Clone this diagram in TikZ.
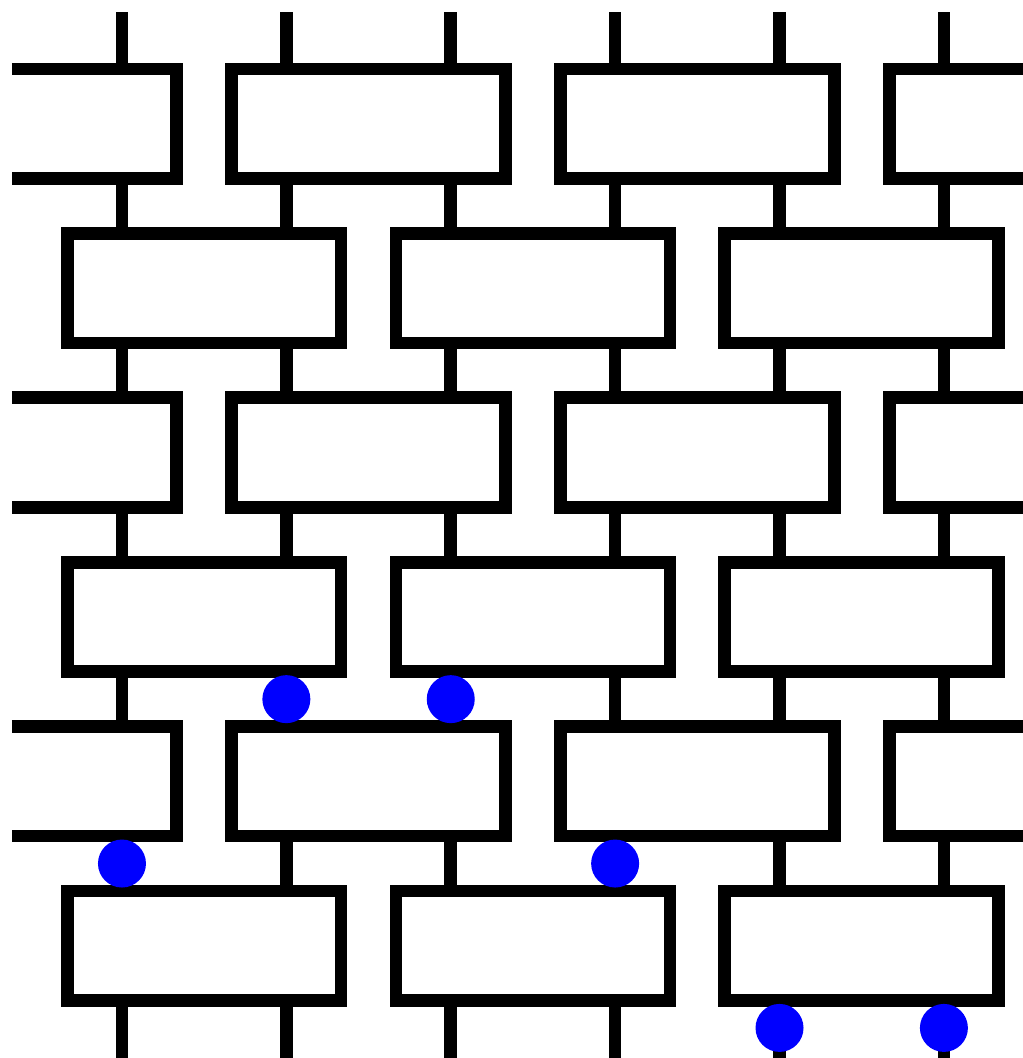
\documentclass[tikz,border=0pt]{standalone}
\usetikzlibrary{positioning}
\definecolor{dotblue}{RGB}{0,0,255}

\begin{document}
\begin{tikzpicture}[x=2cm, y=2cm,
  wire/.style={line width=4.4pt},
  gate/.style={draw, line width=4.4pt, fill=white, minimum width=3.333cm,
               minimum height=1.333cm, inner sep=0pt},
  halfgate/.style={line width=4.4pt, fill=white},
  blob/.style={circle, fill=dotblue, minimum size=0.584cm, inner sep=0pt}
]
  \clip (-0.742,0.753) rectangle (5.481,-5.683);

  % wires
  \foreach \k in {0,...,5} {
    \coordinate (top\k) at (\k,0.68);
    \coordinate (bot\k) at (\k,-5.8);
    \draw[wire] (top\k) -- (bot\k);
  }

  % layers with cut gates at the sides
  \foreach \r in {0,2,4} {
    \filldraw[halfgate] (-0.669,-\r+0.333) -| (0.333,-\r-0.333) -- (-0.669,-\r-0.333);
    \node[gate] (g\r-1) at (1.5,-\r) {};
    \node[gate] (g\r-2) at (3.5,-\r) {};
    \filldraw[halfgate] (5.7,-\r+0.333) -| (4.667,-\r-0.333) -- (5.7,-\r-0.333);
  }
  % shifted layers
  \foreach \r in {1,3,5} {
    \node[gate] (g\r-0) at (0.5,-\r) {};
    \node[gate] (g\r-1) at (2.5,-\r) {};
    \node[gate] (g\r-2) at (4.5,-\r) {};
  }

  % dots
  \node[blob] (d1) at (1,-3.5) {};
  \node[blob] (d2) at (2,-3.5) {};
  \node[blob] (d3) at (0,-4.5) {};
  \node[blob] (d4) at (3,-4.5) {};
  \node[blob] (d5) at (4,-5.5) {};
  \node[blob] (d6) at (5,-5.5) {};
\end{tikzpicture}
\end{document}
